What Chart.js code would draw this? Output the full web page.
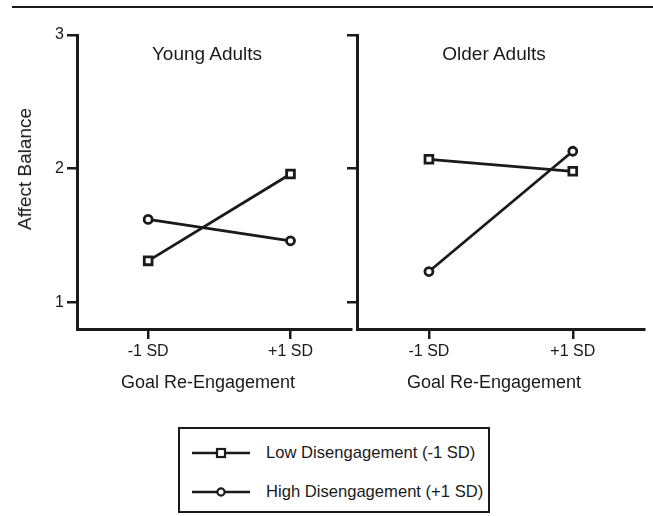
<!DOCTYPE html>
<html><head><meta charset="utf-8">
<script src="https://cdn.jsdelivr.net/npm/chart.js@4"></script>
<style>
html,body{margin:0;padding:0;background:#fff}
body{width:653px;height:516px;position:relative;overflow:hidden;font-family:"Liberation Sans",Arial,sans-serif;color:#1a1a1a}
.abs{position:absolute}
.t{position:absolute;white-space:nowrap;transform:translate(-50%,-50%)}
#legend{position:absolute;left:178px;top:427px;width:312px;height:86px;border:2px solid #1a1a1a;box-sizing:border-box}
.li{position:absolute;left:12px;height:24px;display:flex;align-items:center;font-size:16.6px;white-space:nowrap}
.li svg{margin-right:16px;flex:none}
</style></head><body>
<div class="abs" style="left:12px;top:6px;width:641px;height:2px;background:#1a1a1a"></div>
<canvas id="c1" class="abs" width="360" height="400" style="left:0;top:0"></canvas>
<canvas id="c2" class="abs" width="323" height="400" style="left:330px;top:0"></canvas>
<div class="t" style="left:207px;top:54px;font-size:19px">Young Adults</div>
<div class="t" style="left:494px;top:54px;font-size:19px">Older Adults</div>
<div class="t" style="left:25px;top:169px;font-size:19px;transform:translate(-50%,-50%) rotate(-90deg)">Affect Balance</div>
<div class="t" style="left:208px;top:382px;font-size:18px">Goal Re-Engagement</div>
<div class="t" style="left:494px;top:382px;font-size:18px">Goal Re-Engagement</div>
<div id="legend"></div>
<script>
// ---- data ----
const categories = ["-1 SD", "+1 SD"];
const xValues = [-1, 1];
const seriesNames = ["Low Disengagement (-1 SD)", "High Disengagement (+1 SD)"];
const youngLow = [1.31, 1.96];
const youngHigh = [1.62, 1.46];
const olderLow = [2.07, 1.98];
const olderHigh = [1.23, 2.13];
const yTicks = [1, 2, 3];

const ink = '#1a1a1a';
const styles = [{pointStyle:'rect', pointRadius:5.5}, {pointStyle:'circle', pointRadius:4}];

function ds(values, i) {
  return {
    label: seriesNames[i],
    data: values.map((v, k) => ({x: xValues[k], y: v})),
    borderColor: ink, borderWidth: 2.8, backgroundColor: '#fff',
    pointStyle: styles[i].pointStyle, pointRadius: styles[i].pointRadius,
    pointBorderWidth: 2.8, pointBackgroundColor: '#fff', pointBorderColor: ink,
    tension: 0
  };
}

function makeChart(id, low, high, opts) {
  return new Chart(document.getElementById(id), {
    type: 'line',
    data: {datasets: [ds(low, 0), ds(high, 1)]},
    options: {
      responsive: false, animation: false, devicePixelRatio: 1,
      layout: {padding: {top: 35, right: opts.padRight, left: 0, bottom: 0}},
      plugins: {legend: {display: false}, tooltip: {enabled: false}},
      scales: {
        x: {
          type: 'linear', min: -2, max: opts.xMax,
          afterBuildTicks: s => { s.ticks = xValues.map(v => ({value: v})); },
          afterFit: s => { s.height = 71; },
          ticks: {color: ink, font: {family: 'Liberation Sans', size: 16}, padding: 3,
                  callback: v => categories[xValues.indexOf(v)], maxRotation: 0, autoSkip: false},
          grid: {drawOnChartArea: false, drawTicks: true, tickLength: 10, color: ink, lineWidth: 2.5},
          border: {color: ink, width: 3}
        },
        y: {
          min: 0.8, max: 3,
          afterBuildTicks: s => { s.ticks = yTicks.map(v => ({value: v})); },
          afterFit: s => { s.width = opts.yWidth; },
          ticks: {color: ink, font: {family: 'Liberation Sans', size: 16}, padding: 3,
                  callback: v => opts.showY ? String(v) : ''},
          grid: {drawOnChartArea: false, drawTicks: true, tickLength: 10, color: ink, lineWidth: 2.5},
          border: {color: ink, width: 3}
        }
      }
    }
  });
}

makeChart('c1', youngLow, youngHigh, {padRight: 2, xMax: 1.86, yWidth: 77, showY: true});
makeChart('c2', olderLow, olderHigh, {padRight: 5, xMax: 2, yWidth: 27, showY: false});

// legend
const leg = document.getElementById('legend');
seriesNames.forEach((name, i) => {
  const row = document.createElement('div');
  row.className = 'li';
  row.style.top = (i === 0 ? 12 : 51) + 'px';
  const marker = i === 0
    ? '<rect x="25" y="8" width="8" height="8" fill="#fff" stroke="'+ink+'" stroke-width="2.2"/>'
    : '<circle cx="29" cy="12" r="3.6" fill="#fff" stroke="'+ink+'" stroke-width="2.2"/>';
  row.innerHTML = '<svg width="58" height="24"><line x1="0" y1="12" x2="58" y2="12" stroke="'+ink+'" stroke-width="2.5"/>' + marker + '</svg><span></span>';
  row.querySelector('span').textContent = name;
  leg.appendChild(row);
});
</script>
</body></html>
